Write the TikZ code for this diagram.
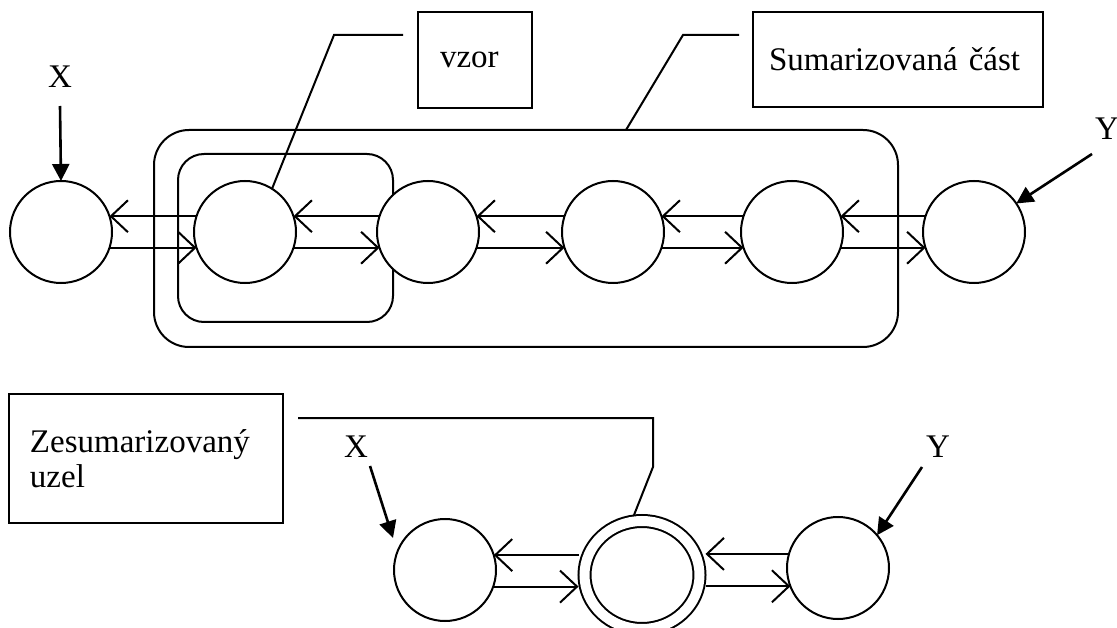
\documentclass[tikz,border=0pt]{standalone}
\usepackage{fontspec}
\setmainfont{Liberation Serif}
\usetikzlibrary{arrows.meta,shapes.geometric}
\begin{document}
\begin{tikzpicture}[x=1pt,y=-1pt,
  line width=2pt,
  every node/.style={font=\fontsize{33}{35}\selectfont},
  state/.style={circle,draw,fill=white,minimum size=102pt,inner sep=0pt,outer sep=0pt},
  merged/.style={ellipse,draw,fill=white,double,double distance=10pt,
    minimum width=115pt,minimum height=108pt,inner sep=0pt,outer sep=6pt},
  group/.style={draw,rounded corners=#1,inner sep=0pt,outer sep=0pt},
  labelbox/.style={draw,rectangle,inner ysep=0pt,outer sep=0pt,align=left},
  tag/.style={inner sep=0pt,anchor=base},
  link/.style={-{Straight Barb[length=17pt,width=32pt]}},
  entry/.style={line width=2.6pt,-{Triangle[length=17pt,width=17pt]}},
  callout/.style={line width=2pt},
]
\useasboundingbox (0,0) rectangle (1117,628);
\clip (0,0) rectangle (1117,628);

% summarised part and the pattern inside it
\node[group=35pt,minimum width=744pt,minimum height=217pt] (grp) at (526,238.5) {};
\node[group=26pt,minimum width=215pt,minimum height=168pt] (pat) at (285.5,238) {};

% upper chain of states
\node[state] (c1) at (61,232) {};
\node[state] (c2) at (245,232) {};
\node[state] (c3) at (428,232) {};
\node[state] (c4) at (613,232) {};
\node[state] (c5) at (792,232) {};
\node[state] (c6) at (974,232) {};

\foreach \l/\r in {c1/c2,c2/c3,c3/c4,c4/c5,c5/c6} {
  \draw[link] (\r.162) -- (\l.18);
  \draw[link] (\l.-18) -- (\r.198);
}

% entry points of the upper chain
\node[tag] (x1) at (60,88) {X};
\draw[entry] ([yshift=-17pt]x1.south) -- (c1.north);
\node[tag] (y1) at (1107,140) {Y};
\coordinate (y1t) at (1092,154);
\draw[entry] (y1t) -- (c6.34);

% labels with their pointers
\node[labelbox,minimum width=114pt,minimum height=96pt,inner xsep=22pt,text width=70pt] (vz) at (475,60) {vzor};
\coordinate (v0) at (403,35);
\coordinate (v1) at (334,35);
\draw[callout] (v0) -- (v1) -- (c2.58);

\node[labelbox,minimum width=290pt,minimum height=95pt,inner xsep=16pt,text width=258pt] (sm) at (898,59.5) {Sumarizovaná část};
\coordinate (s0) at (739,35);
\coordinate (s1) at (683,35);
\draw[callout] (s0) -- (s1) -- ([xshift=472pt]grp.north west);

% lower chain with the summarised node
\node[state] (a) at (445,570) {};
\node[merged] (dbl) at (642,575) {};
\node[state] (c) at (838,568) {};

\draw[link] (dbl.west |- a.17) -- (a.17);
\draw[link] (a.-19) -- (a.-19 -| dbl.west);
\draw[link] (c.164) -- (c.164 -| dbl.east);
\draw[link] (dbl.east |- c.201) -- (c.201);

\node[tag] (x2) at (356,457) {X};
\coordinate (x2t) at (370,466);
\coordinate (x2h) at (393,538);
\draw[entry] (x2t) -- (x2h);
\node[tag] (y2) at (938,457) {Y};
\coordinate (y2t) at (922,467);
\draw[entry] (y2t) -- (c.40);

\node[labelbox,minimum width=274pt,minimum height=129pt,inner xsep=21pt,text width=232pt] (zs) at (146,458.5) {Zesumarizovaný\\uzel};
\coordinate (z0) at (298,418);
\coordinate (z1) at (653,418);
\coordinate (z2) at (653,467);
\draw[callout] (z0) -- (z1) -- (z2) -- ([xshift=-8pt]dbl.north);
\end{tikzpicture}
\end{document}
